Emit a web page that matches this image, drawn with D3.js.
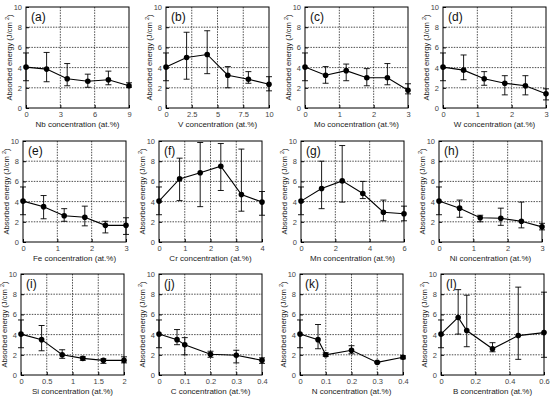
<!DOCTYPE html>
<html>
<head>
<meta charset="utf-8">
<script src="https://d3js.org/d3.v7.min.js"></script>
<style>
  body { margin: 0; background: #fff; }
  text { font-family: "Liberation Sans", Arial, sans-serif; }
  .tick text { font-size: 7.5px; fill: #444; }
  .grid line { stroke: #222; stroke-width: 0.8; stroke-dasharray: 1.5,1.2; }
</style>
</head>
<body>
<script>
// one entry per panel
var panelTags = ["(a)", "(b)", "(c)", "(d)", "(e)", "(f)", "(g)", "(h)", "(i)", "(j)", "(k)", "(l)"];
var elements = ["Nb", "V", "Mo", "W", "Fe", "Cr", "Mn", "Ni", "Si", "C", "N", "B"];
var xMax = [9, 10, 3, 3, 3, 4, 6, 3, 2, 0.4, 0.4, 0.6];
var xTicks = [
  [0, 3, 6, 9], [0, 2.5, 5, 7.5, 10], [0, 1, 2, 3], [0, 1, 2, 3],
  [0, 1, 2, 3], [0, 1, 2, 3, 4], [0, 2, 4, 6], [0, 1, 2, 3],
  [0, 0.5, 1, 1.5, 2], [0, 0.1, 0.2, 0.3, 0.4], [0, 0.1, 0.2, 0.3, 0.4], [0, 0.2, 0.4, 0.6]
];
var yTicks = [0, 2, 4, 6, 8, 10];

var conc = [
  [0, 1.8, 3.6, 5.4, 7.2, 9],
  [0, 2, 4, 6, 8, 10],
  [0, 0.6, 1.2, 1.8, 2.4, 3],
  [0, 0.6, 1.2, 1.8, 2.4, 3],
  [0, 0.6, 1.2, 1.8, 2.4, 3],
  [0, 0.8, 1.6, 2.4, 3.2, 4],
  [0, 1.2, 2.4, 3.6, 4.8, 6],
  [0, 0.6, 1.2, 1.8, 2.4, 3],
  [0, 0.4, 0.8, 1.2, 1.6, 2],
  [0, 0.07, 0.1, 0.2, 0.3, 0.4],
  [0, 0.07, 0.1, 0.2, 0.3, 0.4],
  [0, 0.1, 0.15, 0.3, 0.45, 0.6]
];
var energy = [
  [4.05, 3.85, 2.9, 2.65, 2.8, 2.2],
  [4.05, 5.0, 5.3, 3.25, 2.85, 2.35],
  [4.05, 3.25, 3.7, 3.0, 3.0, 1.75],
  [4.05, 3.75, 2.9, 2.45, 2.2, 1.4],
  [4.05, 3.5, 2.6, 2.45, 1.65, 1.65],
  [4.05, 6.25, 6.85, 7.5, 4.7, 3.95],
  [4.05, 5.3, 6.05, 4.8, 2.95, 2.8],
  [4.05, 3.35, 2.4, 2.35, 2.05, 1.5],
  [4.05, 3.5, 2.0, 1.65, 1.45, 1.45],
  [4.05, 3.5, 3.0, 2.05, 1.95, 1.45],
  [4.05, 3.5, 2.0, 2.45, 1.25, 1.75],
  [4.05, 5.7, 4.4, 2.6, 3.9, 4.2]
];
var errHigh = [
  [5.45, 5.5, 4.4, 3.35, 3.65, 2.5],
  [5.45, 7.5, 7.65, 4.1, 3.6, 3.1],
  [5.45, 4.1, 4.35, 3.9, 4.4, 2.4],
  [5.45, 5.25, 3.6, 3.2, 3.2, 1.9],
  [5.45, 4.6, 3.3, 3.55, 2.05, 2.4],
  [5.45, 8.3, 9.85, 9.75, 9.2, 5.0],
  [5.45, 8.0, 9.55, 6.0, 4.15, 3.55],
  [5.45, 4.15, 2.65, 3.35, 3.95, 1.85],
  [5.45, 4.9, 2.5, 1.8, 1.6, 1.8],
  [5.45, 4.5, 3.7, 2.35, 2.45, 1.7],
  [5.45, 5.0, 2.2, 2.9, 1.3, 1.9],
  [5.45, 8.45, 7.9, 3.2, 8.7, 8.2]
];
var errLow = [
  [2.7, 2.6, 2.2, 2.05, 2.3, 2.05],
  [2.7, 2.85, 3.4, 2.0, 2.45, 1.7],
  [2.7, 2.45, 2.7, 2.2, 2.3, 1.4],
  [2.7, 2.8, 2.25, 1.3, 1.3, 0.8],
  [2.7, 2.3, 2.05, 1.6, 0.9, 0.75],
  [2.7, 4.1, 3.5, 5.1, 3.05, 2.65],
  [2.7, 3.3, 3.95, 4.3, 2.1, 2.1],
  [2.7, 2.45, 2.0, 1.65, 1.4, 1.2],
  [2.7, 2.4, 1.65, 1.45, 1.15, 1.2],
  [2.7, 3.0, 2.0, 1.75, 1.2, 1.15],
  [2.7, 2.6, 1.85, 2.1, 1.2, 1.6],
  [2.7, 4.05, 2.8, 2.3, 1.55, 1.75]
];

// layout of the 4x3 grid of panels
var panelLeft = [[26, 166, 305, 443], [23, 159, 301, 439], [21, 159, 300, 441]];
var panelTop = [7, 141, 274];
var pw = 103, ph = 101;

var svg = d3.select("body").append("svg")
  .attr("width", 550)
  .attr("height", 397);

elements.forEach(function(el, i) {
  var row = Math.floor(i / 4), col = i % 4;
  var g = svg.append("g")
    .attr("transform", "translate(" + panelLeft[row][col] + "," + panelTop[row] + ")");

  var x = d3.scaleLinear().domain([0, xMax[i]]).range([0, pw]);
  var y = d3.scaleLinear().domain([0, 10]).range([ph, 0]);

  // dashed grid
  var grid = g.append("g").attr("class", "grid");
  grid.selectAll(".gy").data(yTicks.slice(1, -1)).enter().append("line")
    .attr("x1", 0).attr("x2", pw)
    .attr("y1", d => y(d)).attr("y2", d => y(d));
  grid.selectAll(".gx").data(xTicks[i].slice(1, -1)).enter().append("line")
    .attr("y1", 0).attr("y2", ph)
    .attr("x1", d => x(d)).attr("x2", d => x(d));

  // axes
  g.append("g")
    .attr("transform", "translate(0," + ph + ")")
    .call(d3.axisBottom(x).tickValues(xTicks[i]).tickSize(-3).tickPadding(4).tickFormat(d3.format("")))
    .call(a => a.select(".domain").remove());
  g.append("g")
    .call(d3.axisLeft(y).tickValues(yTicks).tickSize(-3).tickPadding(4))
    .call(a => a.select(".domain").remove());

  g.append("rect")
    .attr("width", pw).attr("height", ph)
    .attr("fill", "none").attr("stroke", "#000").attr("stroke-width", 1);

  var pts = conc[i].map(function(c, k) {
    return {x: c, y: energy[i][k], hi: errHigh[i][k], lo: errLow[i][k]};
  });

  // error bars
  var eb = g.append("g").attr("stroke", "#000").attr("stroke-width", 0.9);
  eb.selectAll(".ev").data(pts).enter().append("line")
    .attr("x1", d => x(d.x)).attr("x2", d => x(d.x))
    .attr("y1", d => y(d.hi)).attr("y2", d => y(d.lo));
  eb.selectAll(".et").data(pts).enter().append("line")
    .attr("x1", d => x(d.x) - 3).attr("x2", d => x(d.x) + 3)
    .attr("y1", d => y(d.hi)).attr("y2", d => y(d.hi));
  eb.selectAll(".eb").data(pts).enter().append("line")
    .attr("x1", d => x(d.x) - 3).attr("x2", d => x(d.x) + 3)
    .attr("y1", d => y(d.lo)).attr("y2", d => y(d.lo));

  g.append("path")
    .datum(pts)
    .attr("fill", "none").attr("stroke", "#000").attr("stroke-width", 1.1)
    .attr("d", d3.line().x(d => x(d.x)).y(d => y(d.y)));

  g.selectAll(".dot").data(pts).enter().append("circle")
    .attr("cx", d => x(d.x)).attr("cy", d => y(d.y))
    .attr("r", 2.8).attr("fill", "#000");

  g.append("text")
    .attr("x", 5).attr("y", 14)
    .attr("font-size", "12px").attr("fill", "#111")
    .text(panelTags[i]);

  g.append("text")
    .attr("x", pw / 2).attr("y", ph + 19)
    .attr("text-anchor", "middle").attr("font-size", "8px").attr("fill", "#222")
    .text(el + " concentration (at.%)");

  var yl = g.append("text")
    .attr("transform", "translate(-14," + (ph / 2) + ") rotate(-90)")
    .attr("text-anchor", "middle").attr("font-size", "7.6px").attr("fill", "#222");
  yl.append("tspan").text("Absorbed energy (J/cm ");
  yl.append("tspan").attr("font-size", "5.5px").attr("dy", "-3").text("2");
  yl.append("tspan").attr("dy", "3").text(")");
});
</script>
</body>
</html>
